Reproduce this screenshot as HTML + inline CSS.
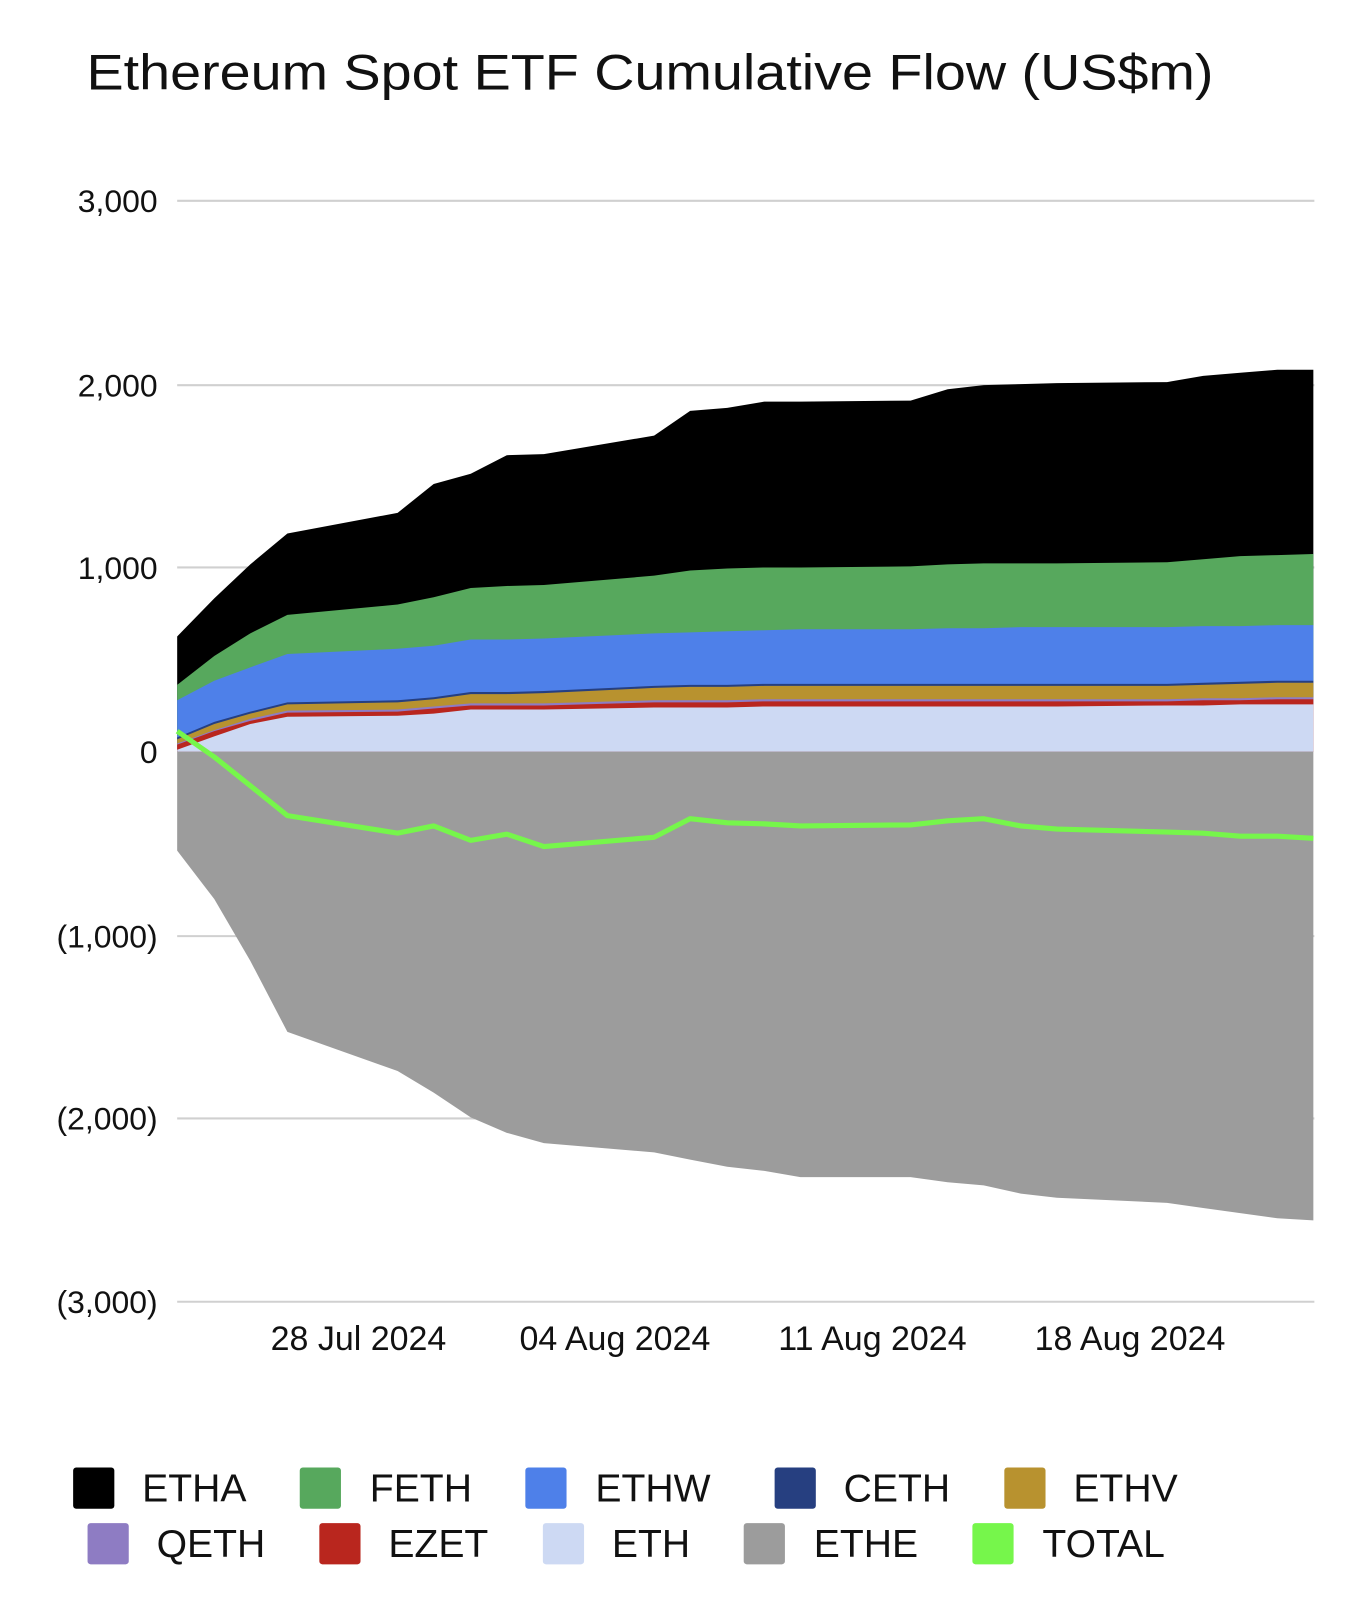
<!DOCTYPE html>
<html><head><meta charset="utf-8"><style>
html,body{margin:0;padding:0;background:#fff;}
svg{display:block;}
text{font-family:"Liberation Sans",Arial,sans-serif;fill:#111;}
</style></head><body>
<svg id="s" width="1370" height="1622" viewBox="0 -3 1330 1575" preserveAspectRatio="none" xmlns="http://www.w3.org/2000/svg">
<rect y="-3" width="1330" height="1580" fill="#fff"/>
<text x="84" y="84" font-size="49" textLength="1094" lengthAdjust="spacingAndGlyphs">Ethereum Spot ETF Cumulative Flow (US$m)</text>
<g stroke="#d0d0d0" stroke-width="2">
<line x1="172" x2="1276" y1="192" y2="192"/>
<line x1="172" x2="1276" y1="371" y2="371"/>
<line x1="172" x2="1276" y1="548" y2="548"/>
<line x1="172" x2="1276" y1="906" y2="906"/>
<line x1="172" x2="1276" y1="1083" y2="1083"/>
<line x1="172" x2="1276" y1="1261" y2="1261"/>
</g>
<g font-size="31" text-anchor="end">
<text x="153" y="203">3,000</text>
<text x="153" y="382">2,000</text>
<text x="153" y="559">1,000</text>
<text x="153" y="738">0</text>
<text x="153" y="917">(1,000)</text>
<text x="153" y="1094">(2,000)</text>
<text x="153" y="1272">(3,000)</text>
</g>
<g id="areas"></g>
<g font-size="33" text-anchor="middle">
<text x="348" y="1308">28 Jul 2024</text>
<text x="597" y="1308">04 Aug 2024</text>
<text x="847" y="1308">11 Aug 2024</text>
<text x="1097" y="1308">18 Aug 2024</text>
</g>
<g font-size="38">
<rect x="71" y="1422" width="40" height="40" rx="3" fill="#000"/><text x="138" y="1455">ETHA</text>
<rect x="291" y="1422" width="40" height="40" rx="3" fill="#57a85d"/><text x="359" y="1455">FETH</text>
<rect x="510" y="1422" width="40" height="40" rx="3" fill="#4e80e9"/><text x="578" y="1455">ETHW</text>
<rect x="752" y="1422" width="40" height="40" rx="3" fill="#263f80"/><text x="819" y="1455">CETH</text>
<rect x="975" y="1422" width="40" height="40" rx="3" fill="#b8922f"/><text x="1042" y="1455">ETHV</text>
<rect x="85" y="1476" width="40" height="40" rx="3" fill="#8e7cc3"/><text x="152" y="1509">QETH</text>
<rect x="310" y="1476" width="40" height="40" rx="3" fill="#b9261e"/><text x="377" y="1509">EZET</text>
<rect x="527" y="1476" width="40" height="40" rx="3" fill="#cdd9f3"/><text x="594" y="1509">ETH</text>
<rect x="722" y="1476" width="40" height="40" rx="3" fill="#9c9c9c"/><text x="790" y="1509">ETHE</text>
<rect x="944" y="1476" width="40" height="40" rx="3" fill="#76f64b"/><text x="1012" y="1509">TOTAL</text>
</g>
</svg>
<script>
var X=[172,208,243,279,386,421,457,492,528,635,670,706,742,777,884,920,955,991,1026,1133,1168,1204,1240,1275];
var ETHA=[615,578,545,515,495,467,457,439,438,420,396,393,387,387,386,375,371,370,369,368,362,359,356,356];
var FETH=[662,634,612,594,584,577,568,566,565,556,551,549,548,548,547,545,544,544,544,543,540,537,536,535];
var ETHW=[677,658,645,632,627,624,618,618,617,612,611,610,609,608,608,607,607,606,606,606,605,605,604,604];
var CETH=[713,698,688,679,677,674,669,669,668,663,662,662,661,661,661,661,661,661,661,661,660,659,658,658];
var ETHV=[715,700,690,681,679,676,671,671,670,665,664,664,663,663,663,663,663,663,663,663,662,661,660,660];
var QETH=[719,706,695,687,686,683,680,680,680,677,677,677,676,676,676,676,676,676,676,676,675,675,674,674];
var EZET=[720,707,697,689,688,685,682,682,682,679,679,679,678,678,678,678,678,678,678,678,677,677,676,676];
var ETH=[725,712,700,693,692,690,686,686,686,684,684,684,683,683,683,683,683,683,683,682,682,681,681,681];
var ETHE=[823,870,930,999,1037,1058,1082,1097,1107,1116,1123,1130,1134,1140,1140,1145,1148,1156,1160,1165,1170,1175,1180,1182];
var TOT=[707,732,760,789,806,799,813,807,819,810,792,796,797,799,798,794,792,799,802,805,806,809,809,811];
var g=document.getElementById('areas'),ns='http://www.w3.org/2000/svg';
function area(a,c){var p=a.map(function(v,i){return X[i]+','+v;});p.push('1275,727','172,727');
var e=document.createElementNS(ns,'polygon');e.setAttribute('points',p.join(' '));e.setAttribute('fill',c);g.appendChild(e);}
area(ETHA,'#000');area(FETH,'#57a85d');area(ETHW,'#4e80e9');area(CETH,'#263f80');area(ETHV,'#b8922f');
area(QETH,'#8e7cc3');area(EZET,'#b9261e');area(ETH,'#cdd9f3');area(ETHE,'#9c9c9c');
var l=document.createElementNS(ns,'polyline');l.setAttribute('points',TOT.map(function(v,i){return X[i]+','+v;}).join(' '));
l.setAttribute('fill','none');l.setAttribute('stroke','#76f64b');l.setAttribute('stroke-width','5');l.setAttribute('stroke-linejoin','round');g.appendChild(l);
</script>
</body></html>
